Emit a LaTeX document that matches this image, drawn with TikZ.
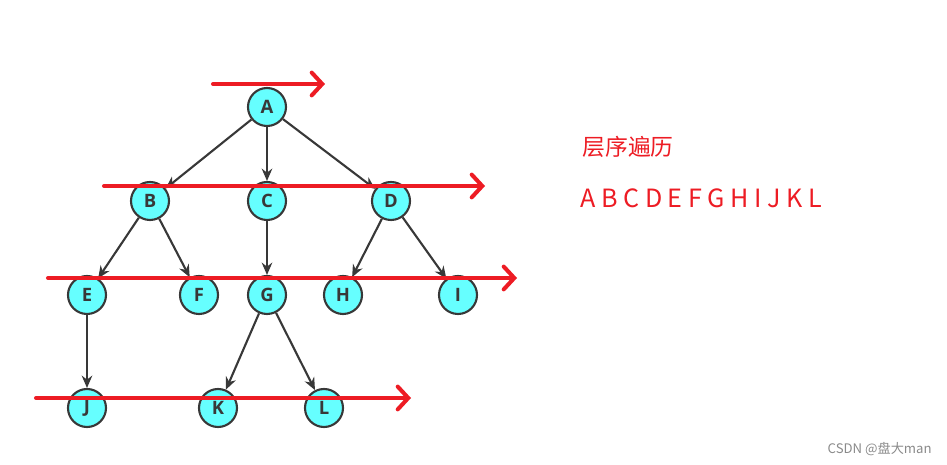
\documentclass[tikz,border=0pt]{standalone}
\usepackage{fontspec}
\setsansfont{Open Sans}
\newfontfamily\cjk{Noto Sans CJK SC}
\usepackage{xcolor}
\usepackage{tikz}
\usetikzlibrary{arrows.meta, positioning}
\definecolor{NodeCyan}{HTML}{66FFFF}
\definecolor{NodeLine}{HTML}{383838}
\definecolor{LevelRed}{HTML}{ED1C24}
\definecolor{MarkGray}{HTML}{8A8A8A}

\begin{document}
\begin{tikzpicture}[
  x=0.02cm, y=-0.02cm,
  treenode/.style={circle, draw=NodeLine, fill=NodeCyan, line width=1.2pt, minimum size=0.76cm, inner sep=0pt, font=\sffamily\bfseries\fontsize{10.5pt}{12pt}\selectfont, text=NodeLine},
  link/.style={draw=NodeLine, line width=1.2pt, -{Stealth[length=7pt, width=6pt]}},
  levelline/.style={draw=LevelRed, line width=2.3pt, line cap=round, -{Straight Barb[length=6pt, width=13pt, line cap=round]}},
  ]
  \useasboundingbox (0,0) rectangle (947,465);
  % tree
  \node[treenode] (a) at (267,107) {A};
  \node[treenode] (b) at (150,201) {B};
  \node[treenode] (c) at (267,201) {C};
  \node[treenode] (d) at (391,201) {D};
  \node[treenode] (e) at (87,295) {E};
  \node[treenode] (f) at (199,295) {F};
  \node[treenode] (g) at (267,295) {G};
  \node[treenode] (h) at (343,295) {H};
  \node[treenode] (i) at (458,295) {I};
  \node[treenode] (j) at (87,408) {J};
  \node[treenode] (k) at (218,408) {K};
  \node[treenode] (l) at (324,408) {L};
  \draw[link] (a) -- (b);
  \draw[link] (a) -- (c);
  \draw[link] (a) -- (d);
  \draw[link] (b) -- (e);
  \draw[link] (b) -- (f);
  \draw[link] (c) -- (g);
  \draw[link] (d) -- (h);
  \draw[link] (d) -- (i);
  \draw[link] (e) -- (j);
  \draw[link] (g) -- (k);
  \draw[link] (g) -- (l);
  % level sweeps
  \coordinate (s1) at (213,84);  \coordinate (t1) at (325,84);
  \coordinate (s2) at (104,186); \coordinate (t2) at (485,186);
  \coordinate (s3) at (48,278);  \coordinate (t3) at (517,278);
  \coordinate (s4) at (36,398);  \coordinate (t4) at (411,398);
  \draw[levelline] (s1) -- (t1);
  \draw[levelline] (s2) -- (t2);
  \draw[levelline] (s3) -- (t3);
  \draw[levelline] (s4) -- (t4);
  % result
  \node[anchor=west, text=LevelRed, font=\cjk\fontsize{13pt}{15pt}\selectfont, inner sep=0pt] (title) at (582,147) {层序遍历};
  \node[anchor=west, text=LevelRed, font=\cjk\fontsize{14.3pt}{16pt}\selectfont, inner sep=0pt] (order) at (580,198) {A B C D E F G H I J K L};
  \node[anchor=east, text=MarkGray, font=\cjk\fontsize{7.5pt}{9pt}\selectfont, inner sep=0pt] (mark) at (932,449) {CSDN @盘大man};
\end{tikzpicture}
\end{document}
